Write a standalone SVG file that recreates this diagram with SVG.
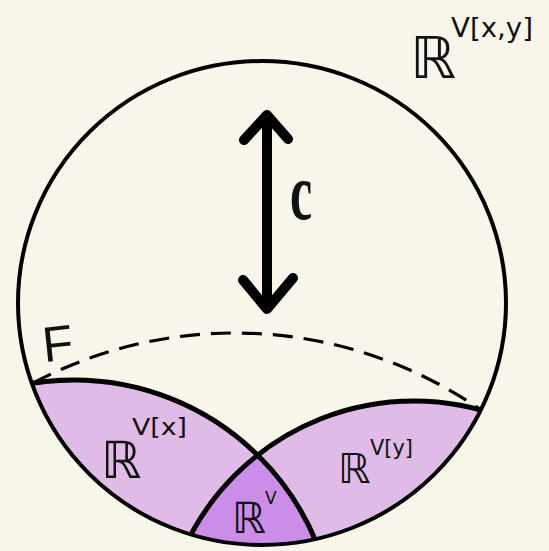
<svg xmlns="http://www.w3.org/2000/svg" width="549" height="551" viewBox="0 0 549 551">
<defs>
<style>
.hand{font-family:"DejaVu Sans","Liberation Sans",sans-serif;fill:#111}
.arc{fill:none;stroke:#000;stroke-width:5}
</style>
<clipPath id="mainClip"><ellipse cx="262" cy="303" rx="244" ry="242"/></clipPath>
<clipPath id="clipB"><circle cx="414" cy="654" r="253"/></clipPath>
</defs>
<rect width="549" height="551" fill="#f8f6ea"/>
<g id="regions" clip-path="url(#mainClip)">
<circle id="region-x" cx="74" cy="642" r="262" fill="#e1bbe7"/>
<circle id="region-y" cx="414" cy="654" r="253" fill="#e1bbe7"/>
<g clip-path="url(#clipB)"><circle id="region-v" cx="74" cy="642" r="262" fill="#cc8de8"/></g>
</g>
<g id="arcs" clip-path="url(#mainClip)">
<circle class="arc" cx="74" cy="642" r="262"/>
<circle class="arc" cx="414" cy="654" r="253"/>
</g>
<path id="F-curve" d="M33,383 A432,432 0 0 1 481,410" fill="none" stroke="#000" stroke-width="3.2" stroke-dasharray="20 11"/>
<ellipse id="main" cx="262" cy="303" rx="244" ry="242" fill="none" stroke="#000" stroke-width="4"/>
<g id="arrow" fill="none" stroke="#000" stroke-width="10" stroke-linecap="round" stroke-linejoin="round">
<path d="M267,116 V308"/>
<path d="M244,140 L267,115 L288,139"/>
<path d="M243,280 L267,309 L293,278"/>
</g>
<text class="hand" transform="translate(290,219) scale(1,1.6)" style="font-family:'Liberation Serif',serif;font-weight:bold" font-size="50">c</text>
<text class="hand" x="42" y="361" font-size="50" style="font-family:'Liberation Sans',sans-serif" transform="rotate(-6 55 340)">F</text>
<g id="label-xy">
<text class="hand" x="410" y="78" font-size="58">ℝ</text>
<text class="hand" x="451" y="37" font-size="26" textLength="82" lengthAdjust="spacingAndGlyphs">V[x,y]</text>
</g>
<g id="label-x">
<text class="hand" x="101" y="478" font-size="51">ℝ</text>
<text class="hand" x="132" y="435" font-size="23" textLength="55" lengthAdjust="spacingAndGlyphs">V[x]</text>
</g>
<g id="label-y">
<text class="hand" x="338" y="483" font-size="41">ℝ</text>
<text class="hand" x="370" y="455" font-size="22" textLength="43" lengthAdjust="spacingAndGlyphs">V[y]</text>
</g>
<g id="label-v">
<text class="hand" x="232" y="533" font-size="43">ℝ</text>
<text class="hand" x="265" y="504" font-size="17">V</text>
</g>
</svg>
